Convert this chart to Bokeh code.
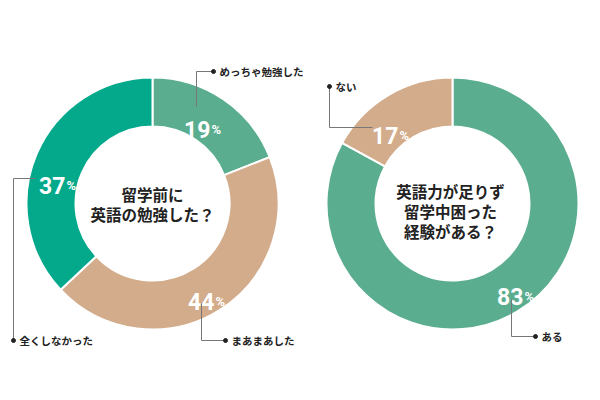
import math
from bokeh.plotting import figure
from bokeh.models import Range1d, ColumnDataSource
from bokeh.core.properties import value
from bokeh.embed import file_html
from bokeh.resources import INLINE

# ---- data ----
left_question = ["留学前に", "英語の勉強した？"]
left_labels = ["めっちゃ勉強した", "まあまあした", "全くしなかった"]
left_values = [19, 44, 37]
left_colors = ["#5aae8f", "#d3ac8c", "#03a98a"]

right_question = ["英語力が足りず", "留学中困った", "経験がある？"]
right_labels = ["ある", "ない"]
right_values = [83, 17]
right_colors = ["#5aae8f", "#d3ac8c"]

W, H = 584, 384
CJK = "'Noto Sans CJK JP', 'Noto Sans CJK SC', sans-serif"
NUM = "Roboto, sans-serif"

p = figure(width=W, height=H, output_backend="svg", toolbar_location=None,
           x_range=Range1d(0, W), y_range=Range1d(400 - H, 400),
           min_border=0, outline_line_color=None)
p.axis.visible = False
p.grid.visible = False
p.background_fill_color = "white"
p.border_fill_color = "white"


def Y(img_y):
    return 400 - img_y


R_OUT, R_IN = 126, 77


def donut(cx, cy, values, colors):
    total = float(sum(values))
    starts, ends = [], []
    cum = 0.0
    for v in values:
        a0 = math.pi / 2 - 2 * math.pi * (cum + v) / total
        a1 = math.pi / 2 - 2 * math.pi * cum / total
        starts.append(a0)
        ends.append(a1)
        cum += v
    src = ColumnDataSource(dict(x=[cx] * len(values), y=[Y(cy)] * len(values),
                                start=starts, end=ends, color=colors))
    p.annular_wedge(x="x", y="y", inner_radius=R_IN, outer_radius=R_OUT,
                    start_angle="start", end_angle="end", fill_color="color",
                    line_color="white", line_width=2, source=src)


donut(152, 203, left_values, left_colors)
donut(452, 203, right_values, right_colors)

# percent labels: (number right edge x, baseline y) in image pixels
pct_pos_left = [(210, 129), (214, 301), (65, 185)]
pct_pos_right = [(523, 296), (398, 135)]


def pct_labels(values, positions):
    xs = [x for x, _ in positions]
    ys = [Y(y) for _, y in positions]
    p.text(x=xs, y=ys, text=[str(v) for v in values], text_align="right",
           text_baseline="alphabetic", text_font=value(NUM),
           text_font_style="bold", text_font_size="23px", text_color="white")
    p.text(x=[x + 1 for x in xs], y=ys, text=["%"] * len(values),
           text_align="left", text_baseline="alphabetic",
           text_font=value(NUM), text_font_style="bold",
           text_font_size="13px", text_color="white")


pct_labels(left_values, pct_pos_left)
pct_labels(right_values, pct_pos_right)

# leader lines: path points in image coords (last point is the dot)
leaders_left = [
    [(196, 106), (196, 71), (213, 71)],
    [(201, 303), (201, 340), (225, 340)],
    [(35, 178), (13, 178), (13, 340)],
]
leaders_right = [
    [(511, 299), (511, 336), (535, 336)],
    [(372, 127), (329, 127), (329, 86)],
]


def leaders(paths, labels):
    for path, lab in zip(paths, labels):
        p.line(x=[pt[0] for pt in path], y=[Y(pt[1]) for pt in path],
               line_color="#777777", line_width=1)
        dx, dy = path[-1]
        p.scatter(x=[dx], y=[Y(dy)], size=4, color="#222222")
        p.text(x=[dx + 6], y=[Y(dy)], text=[lab], text_align="left",
               text_baseline="middle", text_font=value(CJK),
               text_font_style="bold", text_font_size="10.5px",
               text_color="#222222")


leaders(leaders_left, left_labels)
leaders(leaders_right, right_labels)


def center_text(cx, lines, y0):
    p.text(x=[cx] * len(lines), y=[Y(y0 + 20 * i) for i in range(len(lines))],
           text=lines, text_align="center", text_baseline="middle",
           text_font=value(CJK), text_font_style="bold",
           text_font_size="15.5px", text_color="#222222")


center_text(152, left_question, 193)
center_text(450, right_question, 190)

open("out.html", "w").write(file_html(p, INLINE))
